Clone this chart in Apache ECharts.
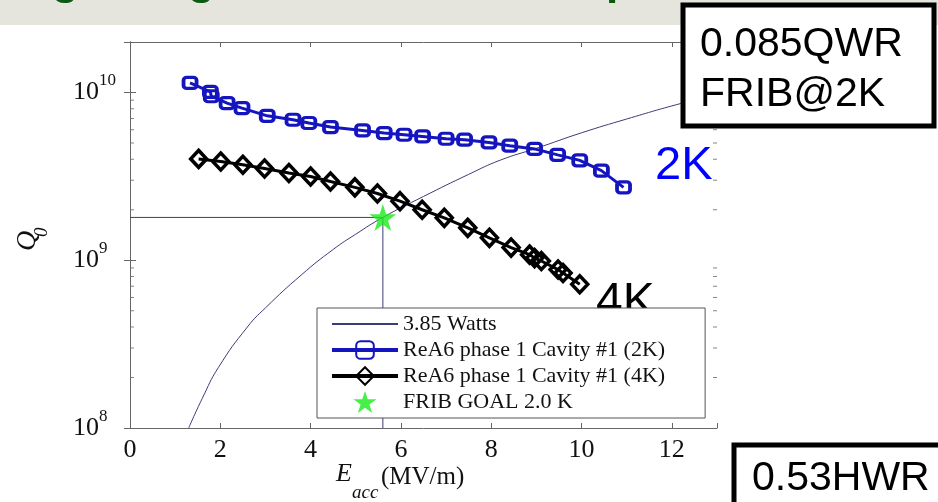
<!DOCTYPE html>
<html>
<head>
<meta charset="utf-8">
<script src="https://cdn.jsdelivr.net/npm/echarts@6/dist/echarts.min.js"></script>
<style>
  html, body { margin: 0; padding: 0; background: #fff; }
  #chart { width: 938px; height: 502px; }
</style>
</head>
<body>
<div id="chart"></div>
<script>
// Q0 vs Eacc, ReA6 phase 1 cavity #1
const eacc2K = [1.33, 1.78, 1.80, 2.15, 2.48, 3.04, 3.61, 3.96, 4.44, 5.15, 5.63, 6.07, 6.48, 7.00, 7.41, 7.95, 8.41, 8.96, 9.47, 9.96, 10.44, 10.93]
const q2K = [1.14e10, 1.01e10, 9.5e9, 8.65e9, 8.07e9, 7.26e9, 6.88e9, 6.58e9, 6.22e9, 5.94e9, 5.73e9, 5.60e9, 5.47e9, 5.30e9, 5.23e9, 5.04e9, 4.82e9, 4.61e9, 4.25e9, 3.94e9, 3.42e9, 2.72e9]

const eacc4K = [1.52, 2.01, 2.50, 2.98, 3.52, 4.00, 4.44, 4.98, 5.48, 5.98, 6.47, 6.96, 7.48, 7.96, 8.44, 8.85, 8.96, 9.11, 9.48, 9.59, 9.96]
const q4K = [4.02e9, 3.88e9, 3.71e9, 3.52e9, 3.31e9, 3.16e9, 2.95e9, 2.72e9, 2.50e9, 2.25e9, 2.00e9, 1.79e9, 1.56e9, 1.36e9, 1.19e9, 1.08e9, 1.03e9, 9.9e8, 8.8e8, 8.4e8, 7.2e8]

// 3.85 W constant power curve
const eaccW = [1.30, 1.6, 1.96, 2.6, 3.0, 3.8, 4.5, 5.0, 5.6, 6.5, 7.5, 8.2, 9.0, 10.0, 11.0, 12.2, 13.0]
const qW = [1.0e8, 1.5e8, 2.3e8, 4.0e8, 5.2e8, 8.2e8, 1.16e9, 1.43e9, 1.8e9, 2.4e9, 3.25e9, 3.95e9, 4.65e9, 5.75e9, 6.95e9, 8.6e9, 9.7e9]

const goalE = [5.6]
const goalQ = [1.8e9]

const xTicks = [0, 2, 4, 6, 8, 10, 12]
const yTicks = [1e8, 1e9, 1e10]
const yMinorTicks = [2e8, 3e8, 4e8, 5e8, 6e8, 7e8, 8e8, 9e8, 2e9, 3e9, 4e9, 5e9, 6e9, 7e9, 8e9, 9e9]

const names = ['3.85 Watts', 'ReA6 phase 1 Cavity #1 (2K)', 'ReA6 phase 1 Cavity #1 (4K)', 'FRIB GOAL 2.0 K']

const serif = 'Liberation Serif'
const axisGray = '#666'
const blue = '#1515c0'
const navy = '#3c3c78'

const zip = (a, b) => a.map((v, i) => [v, b[i]])

const chart = echarts.init(document.getElementById('chart'))

const xAxisBase = {
  type: 'value', min: 0, max: 13, interval: 2,
  splitLine: { show: false },
  axisLine: { show: true, lineStyle: { color: axisGray, width: 1 } },
  axisTick: { show: true, inside: true, length: 5, lineStyle: { color: axisGray } }
}
const yAxisBase = {
  type: 'log', logBase: 10, min: 1e8, max: 2e10,
  splitLine: { show: false },
  axisLine: { show: true, lineStyle: { color: axisGray, width: 1 } },
  axisTick: { show: true, inside: true, length: 6, lineStyle: { color: axisGray } }
}

const star = 'path://M50,0 L61.8,36.2 L100,36.2 L69.1,58.8 L80.9,95.1 L50,72.7 L19.1,95.1 L30.9,58.8 L0,36.2 L38.2,36.2 Z'

const option = {
  backgroundColor: '#fff',
  animation: false,
  grid: { left: 130, right: 221, top: 42, bottom: 74 },
  xAxis: [
    Object.assign({}, xAxisBase, {
      position: 'bottom',
      axisLabel: {
        margin: 9, fontFamily: serif, fontSize: 26, color: '#111',
        formatter: v => (xTicks.indexOf(v) >= 0 ? String(v) : '')
      }
    }),
    Object.assign({}, xAxisBase, { position: 'top', axisLabel: { show: false } })
  ],
  yAxis: [
    Object.assign({}, yAxisBase, {
      position: 'left',
      axisLabel: {
        align: 'left', margin: 57, showMaxLabel: false,
        formatter: v => {
          const e = Math.round(Math.log10(v))
          if (yTicks.indexOf(Math.pow(10, e)) < 0 || Math.abs(Math.log10(v) - e) > 1e-6) return ''
          return '{b|10}{s|' + e + '}'
        },
        rich: {
          b: { fontFamily: serif, fontSize: 26, lineHeight: 40, color: '#111' },
          s: { fontFamily: serif, fontSize: 17, verticalAlign: 'top', color: '#111' }
        }
      }
    }),
    Object.assign({}, yAxisBase, { position: 'right', axisLabel: { show: false } })
  ],
  legend: {
    data: [
      { name: names[0], itemStyle: { opacity: 0 } },
      { name: names[1], lineStyle: { width: 4 } },
      { name: names[2], lineStyle: { width: 4 } },
      { name: names[3] }
    ],
    orient: 'vertical',
    left: 317, top: 308,
    padding: [5, 40, 5, 13],
    itemGap: 4,
    itemWidth: 66, itemHeight: 22,
    backgroundColor: '#fff',
    borderColor: '#555', borderWidth: 1,
    z: 10,
    textStyle: { fontFamily: serif, fontSize: 22, color: '#111' }
  },
  series: [
    {
      // guide lines to the goal point
      type: 'line', silent: true, symbol: 'none', z: 1,
      data: [[0, goalQ[0]], [goalE[0], goalQ[0]], [goalE[0], 1e8]],
      lineStyle: { color: navy, width: 1 }
    },
    {
      name: names[0], type: 'line', symbol: 'none', smooth: true, z: 2,
      data: zip(eaccW, qW),
      lineStyle: { color: navy, width: 1 },
      itemStyle: { color: navy }
    },
    {
      name: names[1], type: 'line', z: 3,
      data: zip(eacc2K, q2K),
      symbol: 'roundRect', symbolSize: [13, 11],
      lineStyle: { color: blue, width: 3 },
      itemStyle: { color: 'rgba(255,255,255,0)', borderColor: blue, borderWidth: 3.5 }
    },
    {
      name: names[2], type: 'line', z: 3,
      data: zip(eacc4K, q4K),
      symbol: 'diamond', symbolSize: [16, 17],
      lineStyle: { color: '#000', width: 3 },
      itemStyle: { color: 'rgba(255,255,255,0)', borderColor: '#000', borderWidth: 3.5 }
    },
    {
      name: names[3], type: 'scatter', z: 5,
      data: zip(goalE, goalQ),
      symbol: star,
      symbolSize: 27,
      itemStyle: { color: '#18ec18' }
    },
    {
      // minor log ticks, left axis
      type: 'scatter', silent: true, z: 4,
      data: yMinorTicks.map(v => [0, v]),
      symbol: 'rect', symbolSize: [4, 1], symbolOffset: [2, 0],
      itemStyle: { color: axisGray }
    },
    {
      // minor log ticks, right axis
      type: 'scatter', silent: true, z: 4,
      data: yMinorTicks.map(v => [13, v]),
      symbol: 'rect', symbolSize: [4, 1], symbolOffset: [-2, 0],
      itemStyle: { color: axisGray }
    }
  ],
  graphic: [
    // slide title bar (title text cut off above)
    { type: 'rect', z: 0, shape: { x: 0, y: 0, width: 938, height: 25 }, style: { fill: '#e5e5dd' } },
    { type: 'text', z: 1, x: 52, y: 4, style: { text: 'g', font: 'bold 44px "Liberation Sans"', fill: '#0b5a12', verticalAlign: 'bottom' } },
    { type: 'text', z: 1, x: 188, y: 4, style: { text: 'g', font: 'bold 44px "Liberation Sans"', fill: '#0b5a12', verticalAlign: 'bottom' } },
    { type: 'text', z: 1, x: 606, y: 4, style: { text: 'p', font: 'bold 44px "Liberation Sans"', fill: '#0b5a12', verticalAlign: 'bottom' } },

    // axis names
    { type: 'text', x: 336, y: 487, style: { text: 'E', font: 'italic 26px "Liberation Serif"', fill: '#111', verticalAlign: 'bottom' } },
    { type: 'text', x: 352, y: 502, style: { text: 'acc', font: 'italic 19px "Liberation Serif"', fill: '#111', verticalAlign: 'bottom' } },
    { type: 'text', x: 381, y: 490, style: { text: '(MV/m)', font: '25px "Liberation Serif"', fill: '#111', verticalAlign: 'bottom' } },
    { type: 'text', x: 28, y: 251, rotation: Math.PI / 2, style: { text: 'Q', font: 'italic 28px "Liberation Serif"', fill: '#111', align: 'left', verticalAlign: 'middle' } },
    { type: 'text', x: 42, y: 237, rotation: Math.PI / 2, style: { text: '0', font: 'italic 19px "Liberation Serif"', fill: '#111', align: 'left', verticalAlign: 'middle' } },

    // temperature labels
    { type: 'text', z: 2, x: 655, y: 143, style: { text: '2K', font: '47px "Liberation Sans"', fill: '#0000ff', verticalAlign: 'top' } },
    { type: 'text', z: 2, x: 596, y: 279, style: { text: '4K', font: '48px "Liberation Sans"', fill: '#000', verticalAlign: 'top' } },

    // annotation boxes
    { type: 'rect', z: 20, shape: { x: 683, y: 5, width: 251, height: 121 }, style: { fill: '#fff', stroke: '#000', lineWidth: 5 } },
    { type: 'text', z: 21, x: 700, y: 20, style: { text: '0.085QWR\nFRIB@2K', font: '41px "Liberation Sans"', lineHeight: 50, fill: '#000' } },
    { type: 'rect', z: 20, shape: { x: 734, y: 445, width: 210, height: 80 }, style: { fill: '#fff', stroke: '#000', lineWidth: 5 } },
    { type: 'text', z: 21, x: 752, y: 458, style: { text: '0.53HWR', font: '41px "Liberation Sans"', fill: '#000' } }
  ]
}

chart.setOption(option)
window.addEventListener('resize', () => { chart.resize() })
</script>
</body>
</html>
